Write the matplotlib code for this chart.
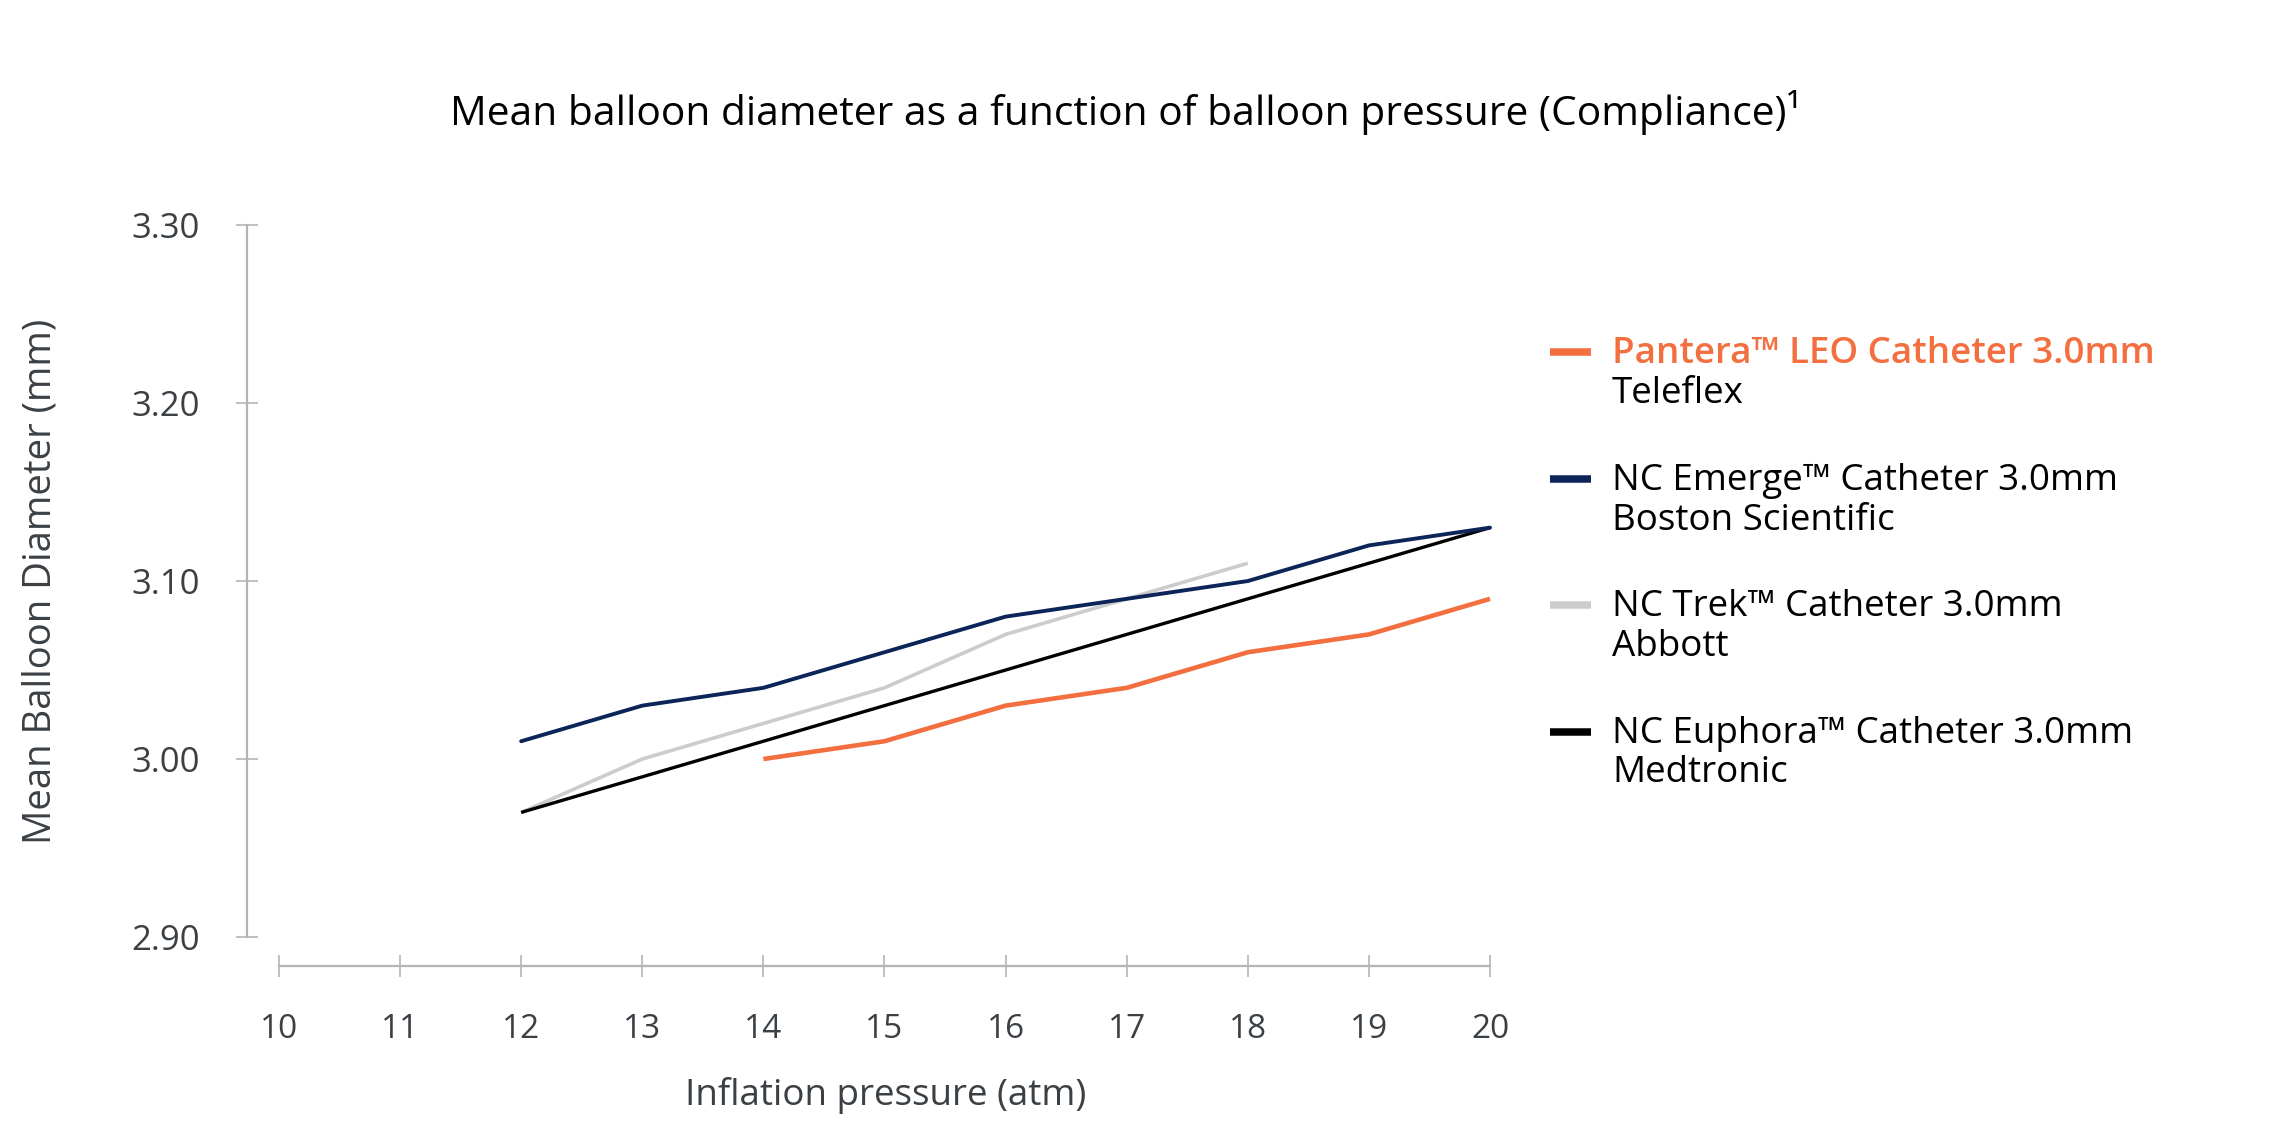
import matplotlib
matplotlib.use('Agg')
import matplotlib.pyplot as plt
from matplotlib.lines import Line2D

plt.rcParams['font.family'] = ['Open Sans', 'DejaVu Sans']

# данные
pantera_x = [14, 15, 16, 17, 18, 19, 20]
pantera_y = [3.00, 3.01, 3.03, 3.04, 3.06, 3.07, 3.09]

emerge_x = [12, 13, 14, 15, 16, 17, 18, 19, 20]
emerge_y = [3.01, 3.03, 3.04, 3.06, 3.08, 3.09, 3.10, 3.12, 3.13]

trek_x = [12, 13, 14, 15, 16, 17, 18]
trek_y = [2.97, 3.00, 3.02, 3.04, 3.07, 3.09, 3.11]

euphora_x = [12, 13, 14, 15, 16, 17, 18, 19, 20]
euphora_y = [2.97, 2.99, 3.01, 3.03, 3.05, 3.07, 3.09, 3.11, 3.13]

x_ticks = list(range(10, 21))
y_ticks = [2.90, 3.00, 3.10, 3.20, 3.30]

legend_names = ['Pantera\u2122 LEO Catheter 3.0mm', 'NC Emerge\u2122 Catheter 3.0mm',
                'NC Trek\u2122 Catheter 3.0mm', 'NC Euphora\u2122 Catheter 3.0mm']
legend_makers = ['Teleflex', 'Boston Scientific', 'Abbott', 'Medtronic']

orange = '#f36f3f'
navy = '#0b2559'
grey = '#cccccc'
black = '#000000'
axis_grey = '#b5b5b5'
label_grey = '#3b4045'

fig = plt.figure(figsize=(22.79, 11.28), dpi=100)
ax = fig.add_axes([0.1224, 0.1693, 0.5314, 0.6312])

ax.plot(trek_x, trek_y, color=grey, lw=2.6, clip_on=False, solid_capstyle='butt')
ax.plot(euphora_x, euphora_y, color=black, lw=2.4, clip_on=False, solid_capstyle='butt')
ax.plot(pantera_x, pantera_y, color=orange, lw=3.3, clip_on=False, solid_capstyle='butt')
ax.plot(emerge_x, emerge_y, color=navy, lw=2.8, clip_on=False, solid_capstyle='round')

ax.set_xlim(10, 20)
ax.set_ylim(2.90, 3.30)
ax.set_xticks(x_ticks)
ax.set_yticks(y_ticks)
ax.set_yticklabels(['%.2f' % v for v in y_ticks])

for s in ['top', 'right']:
    ax.spines[s].set_visible(False)
ax.spines['left'].set_position(('outward', 23))
ax.spines['bottom'].set_position(('outward', 21))
ax.spines['left'].set_bounds(2.90, 3.30)
ax.spines['bottom'].set_bounds(10, 20)
for s in ['left', 'bottom']:
    ax.spines[s].set_color(axis_grey)
    ax.spines[s].set_linewidth(1.6)

ax.tick_params(axis='both', direction='inout', length=16, width=1.2, color=axis_grey,
               labelcolor=label_grey, labelsize=24)
ax.tick_params(axis='y', pad=26, labelsize=25)
ax.tick_params(axis='x', pad=26)

ax.set_xlabel('Inflation pressure (atm)', fontsize=26.5, color=label_grey, ha='center', va='center')
ax.set_ylabel('Mean Balloon Diameter (mm)', fontsize=27.5, color=label_grey, ha='center', va='center')
ax.xaxis.set_label_coords(0.501, -0.222)
ax.yaxis.set_label_coords(-0.1965, 0.5)

fig.text(0.494, 0.8892, 'Mean balloon diameter as a function of balloon pressure (Compliance)\u00b9',
         ha='center', va='baseline', fontsize=29.3, color='black')

# легенда вручную: у первой строки свой цвет
colors = [orange, navy, grey, black]
base1 = [0.6782, 0.5656, 0.4539, 0.3413]
base2 = [0.6427, 0.5301, 0.4184, 0.3067]
for i in range(4):
    yh = base1[i] + 0.0097
    fig.add_artist(Line2D([0.6801, 0.6981], [yh, yh], color=colors[i], lw=5.4,
                          transform=fig.transFigure, solid_capstyle='butt'))
    if i == 0:
        fig.text(0.7073, base1[i], legend_names[i], ha='left', va='baseline', fontsize=26.5,
                 color=orange, fontweight='semibold')
    else:
        fig.text(0.7073, base1[i], legend_names[i], ha='left', va='baseline', fontsize=26.5,
                 color='black')
    fig.text(0.7073, base2[i], legend_makers[i], ha='left', va='baseline', fontsize=26.5, color='black')

plt.savefig('out.png', dpi=100)
